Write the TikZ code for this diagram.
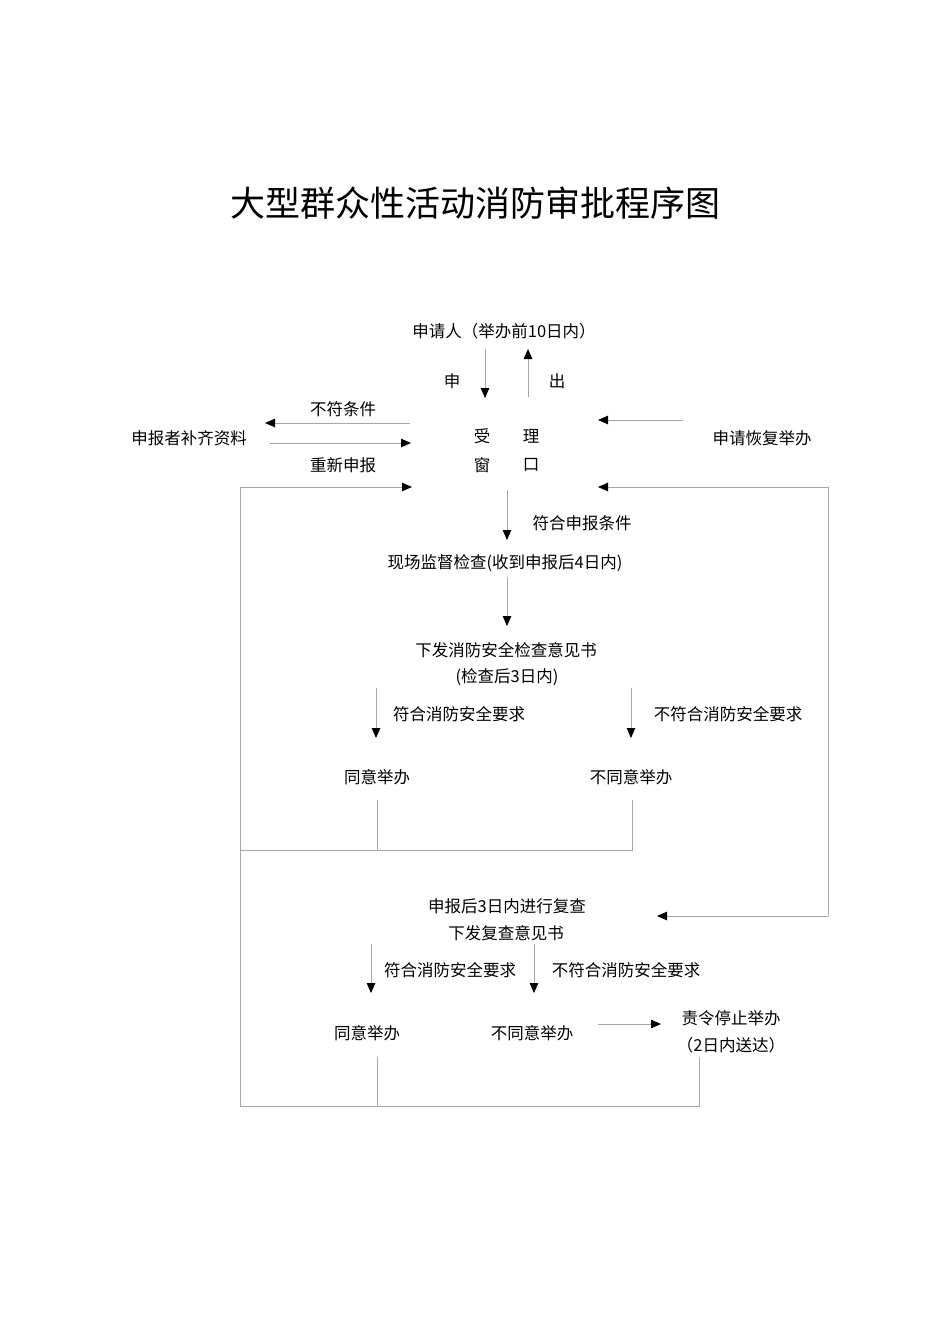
\documentclass[tikz,border=0pt]{standalone}
\usepackage{fontspec}
\setmainfont{Noto Sans CJK SC}
\usetikzlibrary{arrows.meta}
\tikzset{
  txt/.style={font=\fontsize{16.5}{19}\selectfont, inner sep=0pt},
  ttl/.style={font=\fontsize{35}{40}\selectfont, inner sep=0pt},
  conn/.style={draw=black!35, line width=0.8pt},
  arr/.style={conn, -{Triangle[length=10pt,width=8.5pt,color=black]}}
}
\begin{document}
\begin{tikzpicture}[x=1pt,y=-1pt]
\fill[white] (0,0) rectangle (950,1344);
\useasboundingbox (0,0) rectangle (950,1344);

% title
\node[ttl] (title) at (475,203) {大型群众性活动消防审批程序图};

% top part
\node[txt] (app) at (504,331) {申请人（举办前10日内）};
\node[txt] (shen) at (452,381) {申};
\node[txt] (chu) at (557,381) {出};
\node[txt] (bfl) at (343,409) {不符条件};
\node[txt] (bz) at (189,438) {申报者补齐资料};
\node[txt] (cx) at (343,465) {重新申报};
\node[txt] (w1) at (482,436) {受};
\node[txt] (w2) at (531,436) {理};
\node[txt] (w3) at (482,465) {窗};
\node[txt] (w4) at (531,465) {口};
\node[txt] (hf) at (762,438) {申请恢复举办};
\node[txt] (fh) at (582,523) {符合申报条件};

\coordinate (a1s) at (485,349); \coordinate (a1e) at (485,398);
\coordinate (a2s) at (528,397); \coordinate (a2e) at (528,349);
\coordinate (a3s) at (410,423); \coordinate (a3e) at (265,423);
\coordinate (a4s) at (270,443); \coordinate (a4e) at (411,443);
\coordinate (a5s) at (683,420); \coordinate (a5e) at (598,420);
\coordinate (a6e) at (412,487);
\coordinate (a7e) at (598,487);
\coordinate (a8s) at (507,490); \coordinate (a8e) at (507,540);

\draw[arr] (a1s) -- (a1e);
\draw[arr] (a2s) -- (a2e);
\draw[arr] (a3s) -- (a3e);
\draw[arr] (a4s) -- (a4e);
\draw[arr] (a5s) -- (a5e);
\draw[arr] (a8s) -- (a8e);

% middle part
\node[txt] (xc) at (505,563) {现场监督检查(收到申报后4日内)};
\node[txt] (yj) at (506,650) {下发消防安全检查意见书};
\node[txt] (yj2) at (507,677) {(检查后3日内)};
\node[txt] (fl1) at (459,714) {符合消防安全要求};
\node[txt] (bf1) at (728,714) {不符合消防安全要求};
\node[txt] (ty1) at (377,777) {同意举办};
\node[txt] (bty1) at (631,777) {不同意举办};

\coordinate (b1s) at (507,577); \coordinate (b1e) at (507,626);
\coordinate (b2s) at (376,688); \coordinate (b2e) at (376,738);
\coordinate (b3s) at (631,688); \coordinate (b3e) at (631,738);
\draw[arr] (b1s) -- (b1e);
\draw[arr] (b2s) -- (b2e);
\draw[arr] (b3s) -- (b3e);

\coordinate (c1) at (377,800); \coordinate (c1b) at (377,850);
\coordinate (c2) at (632,800); \coordinate (c2b) at (632,850);
\coordinate (lt) at (240,487); \coordinate (lm) at (240,850); \coordinate (lb) at (240,1106);
\coordinate (rt) at (828,487); \coordinate (rb) at (828,916);

\draw[conn] (c1) -- (c1b);
\draw[conn] (c2) -- (c2b) -- (lm);
\draw[conn] (lb) -- (lt);
\draw[arr] (lt) -- (a6e);
\draw[arr] (rb) -- (rt) -- (a7e);

% lower part
\node[txt] (fc) at (507,906) {申报后3日内进行复查};
\node[txt] (fcyj) at (506,933) {下发复查意见书};
\node[txt] (fl2) at (450,970) {符合消防安全要求};
\node[txt] (bf2) at (626,970) {不符合消防安全要求};
\node[txt] (ty2) at (367,1033) {同意举办};
\node[txt] (bty2) at (532,1033) {不同意举办};
\node[txt] (zl) at (731,1018) {责令停止举办};
\node[txt] (zl2) at (731,1045) {（2日内送达）};

\coordinate (d0e) at (657,916);
\draw[arr] (rb) -- (d0e);
\coordinate (d1s) at (371,944); \coordinate (d1e) at (371,993);
\coordinate (d2s) at (534,944); \coordinate (d2e) at (534,993);
\coordinate (d3s) at (598,1024); \coordinate (d3e) at (661,1024);
\draw[arr] (d1s) -- (d1e);
\draw[arr] (d2s) -- (d2e);
\draw[arr] (d3s) -- (d3e);

\coordinate (e1) at (377,1057); \coordinate (e1b) at (377,1106);
\coordinate (e2) at (699,1057); \coordinate (e2b) at (699,1106);
\draw[conn] (e1) -- (e1b);
\draw[conn] (e2) -- (e2b) -- (lb);
\end{tikzpicture}
\end{document}
